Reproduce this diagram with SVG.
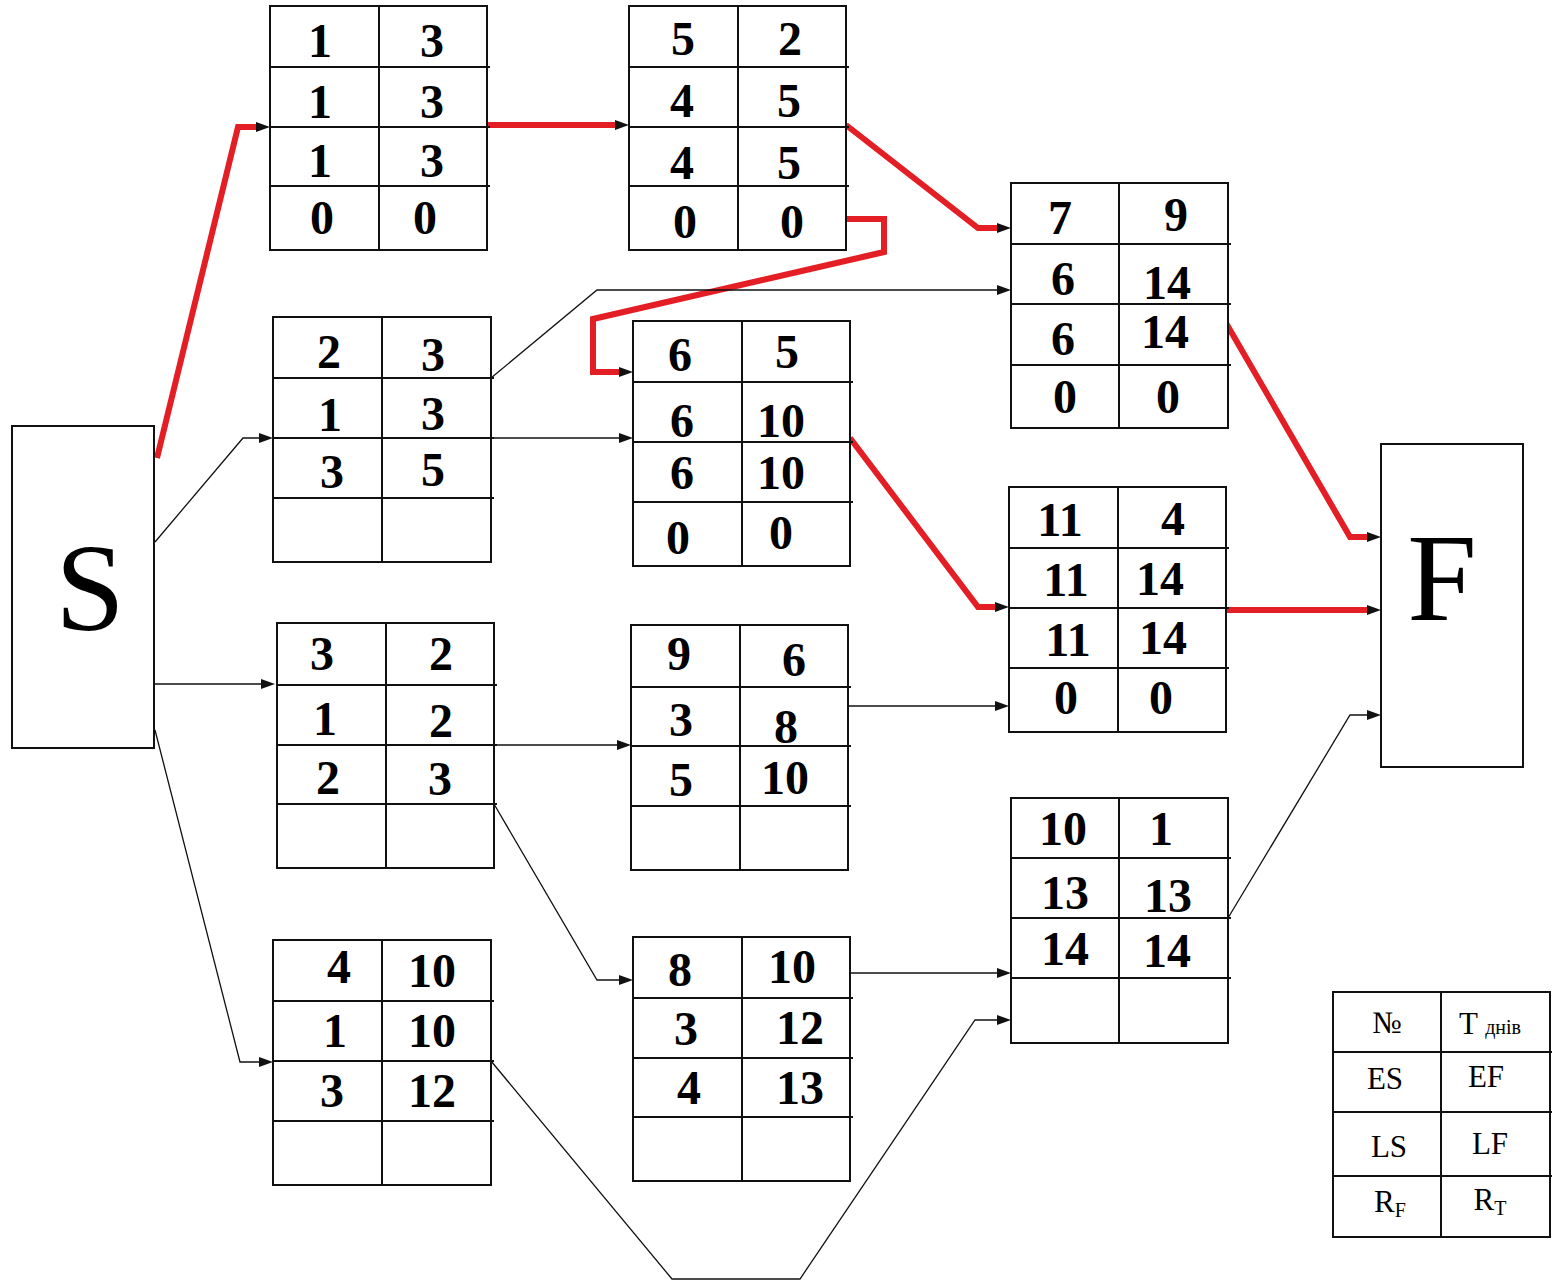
<svg xmlns="http://www.w3.org/2000/svg" width="1554" height="1281" viewBox="0 0 1554 1281">
<style>
.box{fill:#fff;stroke:#111;stroke-width:2}
.ln{fill:none;stroke:#111;stroke-width:2}
.num{font-family:"Liberation Serif",serif;font-weight:bold;font-size:48px;text-anchor:middle;fill:#000}
.big{font-family:"Liberation Serif",serif;font-size:125px;text-anchor:middle;fill:#000}
.lg{font-family:"Liberation Serif",serif;font-size:31px;text-anchor:middle;fill:#000}
.sub{font-size:20px}
.lk{fill:none;stroke:#111;stroke-width:1.3}
.crit{fill:none;stroke:#e31e24;stroke-width:6;stroke-linejoin:miter}
</style>
<defs>
<marker id="ah" markerUnits="userSpaceOnUse" markerWidth="14" markerHeight="10" refX="0" refY="5" orient="auto">
<path d="M0,0 L14,5 L0,10 z" fill="#111"/>
</marker>
</defs>
<rect width="1554" height="1281" fill="#fff"/>

<g id="connectors">
<path class="crit" d="M157,458 L238,127 L256,127" marker-end="url(#ah)"/>
<path class="crit" d="M487,125 L615,125" marker-end="url(#ah)"/>
<path class="crit" d="M846,125 L978,228 L997,228" marker-end="url(#ah)"/>
<path class="crit" d="M845,219 L884,219 L884,252 L593,319 L593,372 L619,372" marker-end="url(#ah)"/>
<path class="crit" d="M850,438 L978,607 L995,607" marker-end="url(#ah)"/>
<path class="crit" d="M1226,323 L1350,537 L1367,537" marker-end="url(#ah)"/>
<path class="crit" d="M1226,610 L1367,610" marker-end="url(#ah)"/>
<path class="lk" d="M491,378 L597,290 L997,290" marker-end="url(#ah)"/>
<path class="lk" d="M155,542 L243,438 L259,438" marker-end="url(#ah)"/>
<path class="lk" d="M491,438 L619,438" marker-end="url(#ah)"/>
<path class="lk" d="M155,684 L261,684" marker-end="url(#ah)"/>
<path class="lk" d="M494,745 L617,745" marker-end="url(#ah)"/>
<path class="lk" d="M632,746 L650,746" stroke-width="2"/>
<path class="lk" d="M848,706 L995,706" marker-end="url(#ah)"/>
<path class="lk" d="M494,804 L597,980 L619,980" marker-end="url(#ah)"/>
<path class="lk" d="M155,730 L240,1062 L259,1062" marker-end="url(#ah)"/>
<path class="lk" d="M491,1061 L672,1279 L800,1279 L975,1020 L997,1020" marker-end="url(#ah)"/>
<path class="lk" d="M850,973 L997,973" marker-end="url(#ah)"/>
<path class="lk" d="M1228,918 L1350,715 L1367,715" marker-end="url(#ah)"/>
</g>

<g id="S">
<rect class="box" x="12" y="426" width="142" height="322"/>
<text class="big" x="90" y="630">S</text>
</g>
<g id="F">
<rect class="box" x="1381" y="444" width="142" height="323"/>
<text class="big" x="1442" y="620">F</text>
</g>

<g id="node1">
<rect class="box" x="270" y="6" width="217" height="244"/>
<path class="ln" d="M270,67 H490 M270,127 H490 M270,186 H490 M379,6 V250"/>
<text class="num" x="320" y="57">1</text><text class="num" x="432" y="57">3</text>
<text class="num" x="320" y="118">1</text><text class="num" x="432" y="118">3</text>
<text class="num" x="320" y="177">1</text><text class="num" x="432" y="177">3</text>
<text class="num" x="322" y="234">0</text><text class="num" x="425" y="234">0</text>
</g>

<g id="node5">
<rect class="box" x="629" y="6" width="217" height="244"/>
<path class="ln" d="M629,67 H849 M629,127 H849 M629,186 H849 M738,6 V250"/>
<text class="num" x="683" y="55">5</text><text class="num" x="790" y="55">2</text>
<text class="num" x="682" y="117">4</text><text class="num" x="789" y="117">5</text>
<text class="num" x="682" y="179">4</text><text class="num" x="789" y="179">5</text>
<text class="num" x="685" y="238">0</text><text class="num" x="792" y="238">0</text>
</g>

<g id="node7">
<rect class="box" x="1011" y="183" width="217" height="245"/>
<path class="ln" d="M1011,244 H1231 M1011,304 H1231 M1011,365 H1231 M1119,183 V428"/>
<text class="num" x="1060" y="234">7</text><text class="num" x="1176" y="231">9</text>
<text class="num" x="1063" y="295">6</text><text class="num" x="1167" y="299">14</text>
<text class="num" x="1063" y="355">6</text><text class="num" x="1165" y="348">14</text>
<text class="num" x="1065" y="413">0</text><text class="num" x="1168" y="413">0</text>
</g>

<g id="node2">
<rect class="box" x="273" y="317" width="218" height="245"/>
<path class="ln" d="M273,378 H494 M273,438 H494 M273,498 H494 M382,317 V562"/>
<text class="num" x="329" y="368">2</text><text class="num" x="433" y="371">3</text>
<text class="num" x="330" y="431">1</text><text class="num" x="433" y="430">3</text>
<text class="num" x="332" y="488">3</text><text class="num" x="433" y="486">5</text>
</g>

<g id="node6">
<rect class="box" x="633" y="321" width="217" height="245"/>
<path class="ln" d="M633,382 H853 M633,442 H853 M633,502 H853 M742,321 V566"/>
<text class="num" x="680" y="371">6</text><text class="num" x="787" y="368">5</text>
<text class="num" x="682" y="437">6</text><text class="num" x="781" y="437">10</text>
<text class="num" x="682" y="489">6</text><text class="num" x="781" y="489">10</text>
<text class="num" x="678" y="554">0</text><text class="num" x="781" y="549">0</text>
</g>

<g id="node11">
<rect class="box" x="1009" y="487" width="217" height="245"/>
<path class="ln" d="M1009,548 H1229 M1009,608 H1229 M1009,668 H1229 M1118,487 V732"/>
<text class="num" x="1060" y="536">11</text><text class="num" x="1173" y="535">4</text>
<text class="num" x="1066" y="596">11</text><text class="num" x="1160" y="595">14</text>
<text class="num" x="1068" y="656">11</text><text class="num" x="1163" y="654">14</text>
<text class="num" x="1066" y="714">0</text><text class="num" x="1161" y="714">0</text>
</g>

<g id="node3">
<rect class="box" x="277" y="623" width="217" height="245"/>
<path class="ln" d="M277,685 H497 M277,745 H497 M277,804 H497 M386,623 V868"/>
<text class="num" x="322" y="670">3</text><text class="num" x="441" y="670">2</text>
<text class="num" x="325" y="735">1</text><text class="num" x="441" y="737">2</text>
<text class="num" x="328" y="794">2</text><text class="num" x="440" y="795">3</text>
</g>

<g id="node9">
<rect class="box" x="631" y="625" width="217" height="245"/>
<path class="ln" d="M631,687 H851 M631,746 H851 M631,806 H851 M740,625 V870"/>
<text class="num" x="679" y="670">9</text><text class="num" x="794" y="676">6</text>
<text class="num" x="681" y="736">3</text><text class="num" x="786" y="743">8</text>
<text class="num" x="681" y="796">5</text><text class="num" x="785" y="794">10</text>
</g>

<g id="node10">
<rect class="box" x="1011" y="798" width="217" height="245"/>
<path class="ln" d="M1011,858 H1231 M1011,918 H1231 M1011,978 H1231 M1119,798 V1043"/>
<text class="num" x="1063" y="845">10</text><text class="num" x="1161" y="845">1</text>
<text class="num" x="1065" y="909">13</text><text class="num" x="1168" y="912">13</text>
<text class="num" x="1065" y="965">14</text><text class="num" x="1167" y="967">14</text>
</g>

<g id="node4">
<rect class="box" x="273" y="940" width="218" height="245"/>
<path class="ln" d="M273,1001 H494 M273,1061 H494 M273,1121 H494 M382,940 V1185"/>
<text class="num" x="339" y="983">4</text><text class="num" x="432" y="987">10</text>
<text class="num" x="335" y="1047">1</text><text class="num" x="432" y="1047">10</text>
<text class="num" x="332" y="1107">3</text><text class="num" x="432" y="1107">12</text>
</g>

<g id="node8">
<rect class="box" x="633" y="937" width="217" height="244"/>
<path class="ln" d="M633,998 H853 M633,1058 H853 M633,1117 H853 M742,937 V1181"/>
<text class="num" x="680" y="986">8</text><text class="num" x="792" y="983">10</text>
<text class="num" x="686" y="1045">3</text><text class="num" x="800" y="1044">12</text>
<text class="num" x="689" y="1104">4</text><text class="num" x="800" y="1104">13</text>
</g>

<g id="legend">
<rect class="box" x="1333" y="992" width="217" height="245"/>
<path class="ln" d="M1333,1052 H1552 M1333,1112 H1552 M1333,1176 H1552 M1441,992 V1237"/>
<text class="lg" x="1387" y="1033">№</text>
<text class="lg" x="1490" y="1034">T <tspan class="sub">днів</tspan></text>
<text class="lg" x="1385" y="1089">ES</text>
<text class="lg" x="1486" y="1087">EF</text>
<text class="lg" x="1389" y="1157">LS</text>
<text class="lg" x="1490" y="1154">LF</text>
<text class="lg" x="1390" y="1212">R<tspan class="sub" dy="5">F</tspan></text>
<text class="lg" x="1490" y="1210">R<tspan class="sub" dy="5">T</tspan></text>
</g>
</svg>
